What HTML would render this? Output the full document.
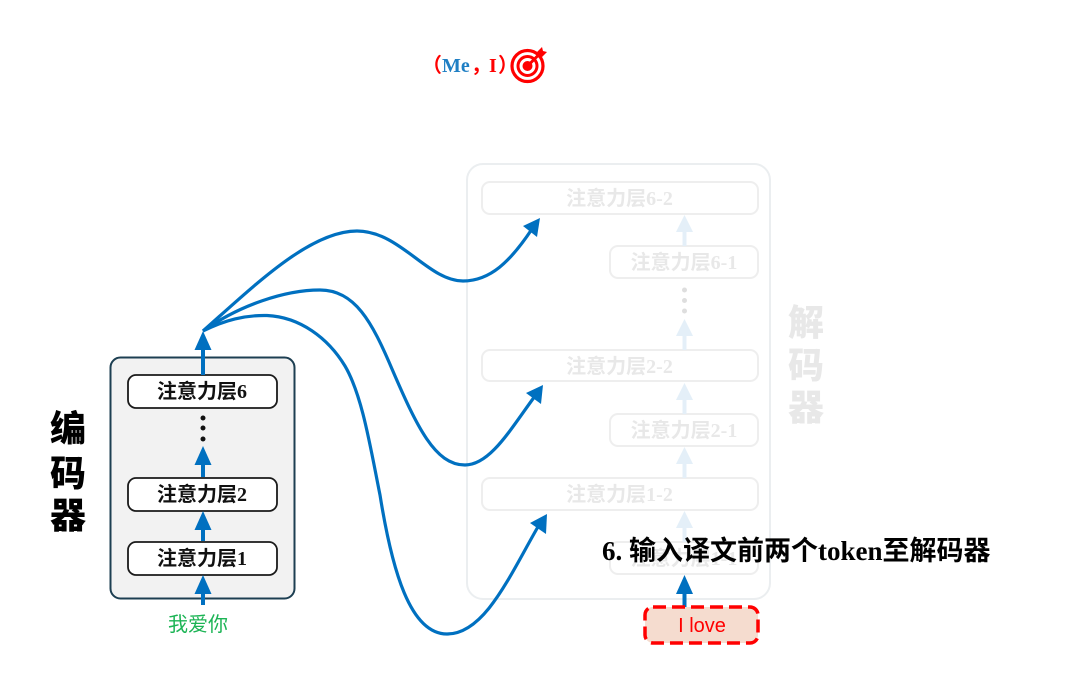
<!DOCTYPE html>
<html><head><meta charset="utf-8"><style>
html,body{margin:0;padding:0;background:#fff;width:1080px;height:692px;overflow:hidden}
svg{display:block}
text{font-family:"Liberation Serif","Noto Sans CJK SC",serif}
.b{font-weight:700}
.n{font-size:20px;font-weight:700;text-anchor:middle;fill:#111}
.g{font-size:20px;font-weight:700;text-anchor:middle;fill:#e8e8e8}
.s{font-family:"Noto Sans CJK SC",sans-serif;font-weight:900}
</style></head><body>
<svg width="1080" height="692" viewBox="0 0 1080 692" xmlns="http://www.w3.org/2000/svg">
<!-- decoder faded -->
<rect x="467" y="164" width="303" height="435" rx="16" fill="#fff" stroke="#ebeef0" stroke-width="2"/>
<g fill="#fff" stroke="#eeeeee" stroke-width="2">
<rect x="482" y="182" width="276" height="32" rx="8"/>
<rect x="610" y="246" width="148" height="32" rx="8"/>
<rect x="482" y="350" width="276" height="31" rx="8"/>
<rect x="610" y="414" width="148" height="32" rx="8"/>
<rect x="482" y="478" width="276" height="32" rx="8"/>
<rect x="610" y="542" width="148" height="32" rx="8"/>
</g>
<g fill="#e4eff8">
<path d="M682.500 246V228H686.500V246Z"/><path d="M684.500 215L693 232H676Z"/>
<path d="M682.500 350V332H686.500V350Z"/><path d="M684.500 319L693 336H676Z"/>
<path d="M682.500 414V396H686.500V414Z"/><path d="M684.500 383L693 400H676Z"/>
<path d="M682.500 478V460H686.500V478Z"/><path d="M684.500 447L693 464H676Z"/>
<path d="M682.500 542V524H686.500V542Z"/><path d="M684.500 511L693 528H676Z"/>
</g>
<g fill="#dedede"><circle cx="684.500" cy="290" r="2.500"/><circle cx="684.500" cy="300.500" r="2.500"/><circle cx="684.500" cy="311" r="2.500"/></g>
<text class="g" x="619.500" y="205">注意力层6-2</text>
<text class="g" x="684" y="269">注意力层6-1</text>
<text class="g" x="619.500" y="373">注意力层2-2</text>
<text class="g" x="684" y="437">注意力层2-1</text>
<text class="g" x="619.500" y="501">注意力层1-2</text>
<text class="g" x="684" y="565">注意力层1-1</text>
<g class="s" font-size="36" fill="#e8e8e8" text-anchor="middle">
<text class="s" x="806" y="335">解</text><text class="s" x="806" y="378">码</text><text class="s" x="806" y="420">器</text>
</g>

<!-- encoder -->
<rect x="110.500" y="357.500" width="184" height="241" rx="10" fill="#f2f2f2" stroke="#1d3f52" stroke-width="2"/>
<g fill="#fff" stroke="#1a1a1a" stroke-width="1.800">
<rect x="128" y="375" width="149" height="33" rx="8"/>
<rect x="128" y="478" width="149" height="33" rx="8"/>
<rect x="128" y="542" width="149" height="33" rx="8"/>
</g>
<text class="n" x="202" y="398">注意力层6</text>
<text class="n" x="202" y="501">注意力层2</text>
<text class="n" x="202" y="565">注意力层1</text>
<g fill="#111"><circle cx="203" cy="418" r="2.500"/><circle cx="203" cy="428" r="2.500"/><circle cx="203" cy="439" r="2.500"/></g>
<g class="s" font-size="36" fill="#000" text-anchor="middle">
<text class="s" x="68" y="441">编</text><text class="s" x="68" y="486">码</text><text class="s" x="68" y="528">器</text>
</g>
<text x="198" y="631" font-size="20" text-anchor="middle" fill="#1cb455" style="font-family:'Noto Sans CJK SC',sans-serif;font-weight:400">我爱你</text>

<!-- arrows -->
<g fill="#0070c0">
<path d="M201 375V345H205V375Z"/><path d="M203 331L211.500 350H194.500Z"/>
<path d="M201 477V460H205V477Z"/><path d="M203 446L211.500 465H194.500Z"/>
<path d="M201 541V525H205V541Z"/><path d="M203 511L211.500 530H194.500Z"/>
<path d="M201 605V590H205V605Z"/><path d="M203 575L211.500 594H194.500Z"/>
<path d="M682.500 607V590H686.500V607Z"/><path d="M684.500 575L693 594H676Z"/>
<path d="M540 218L537 237L523 226Z"/>
<path d="M543 385L541 404L526 393Z"/>
<path d="M547 514L546 534L530 523Z"/>
</g>
<g fill="none" stroke="#0070c0" stroke-width="3.200">
<path d="M203 331C255 285 310 231 357 231C400 231 428 281 463 281C490 281 510 262 532 229"/>
<path d="M203 331C240 305 285 290 320 290C355 290 372 322 392 369C417 427 435 465 465 465C490 465 510 430 535 396"/>
<path d="M203 331C225 320 245 315 267 315.500C300 317 328 338 345 366C362 395 370 445 380 495C392 570 410 634 447 634C485 634 510 575 539 525"/>
</g>

<!-- top -->
<text x="422" y="72" font-size="20" class="b" fill="#f00">（</text>
<text x="442" y="72" font-size="20" class="b" fill="#1f7fc4">Me</text>
<text x="471" y="72" font-size="20" class="b" fill="#f00">，</text>
<text x="489" y="72" font-size="20" class="b" fill="#f00">I</text>
<text x="498" y="72" font-size="20" class="b" fill="#f00">）</text>
<g fill="none" stroke="#f00">
<circle cx="527.500" cy="66" r="15.500" stroke-width="3.200"/>
<circle cx="527.500" cy="66" r="9.500" stroke-width="3"/>
</g>
<circle cx="527.500" cy="66" r="5" fill="#f00"/>
<path d="M527.500 66L540 53.500" stroke="#f00" stroke-width="3"/>
<path d="M537 52L542 47L543 51L547 52L542 57Z" fill="#f00"/>

<!-- caption -->
<text x="602" y="560" font-size="27" class="b" fill="#000">6. 输入译文前两个token至解码器</text>

<!-- I love -->
<rect x="645" y="607" width="113" height="36" rx="8" fill="#f5dccf" stroke="#f00" stroke-width="3.500" stroke-dasharray="13 6"/>
<text x="702" y="632" text-anchor="middle" fill="#f00" style="font-family:'Liberation Sans',sans-serif;font-size:20px">I love</text>
</svg>
</body></html>
